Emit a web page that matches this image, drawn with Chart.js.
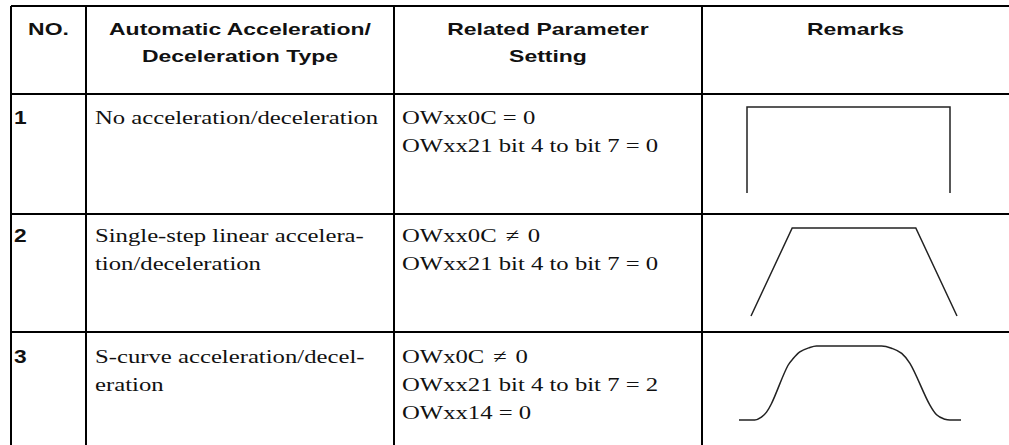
<!DOCTYPE html>
<html>
<head>
<meta charset="utf-8">
<script src="https://cdn.jsdelivr.net/npm/chart.js@4.4.1/dist/chart.umd.min.js"></script>
<style>
  html, body { margin: 0; padding: 0; background: #fff; }
  body { width: 1009px; height: 445px; position: relative; overflow: hidden; }
  .ln { position: absolute; background: #000; }
  .txt { position: absolute; white-space: nowrap; color: #111; }
  .txt div { transform-origin: left center; }
  .hd { font-family: "Liberation Sans", Arial, sans-serif; font-weight: bold; font-size: 17px; line-height: 27px; text-align: center; }
  .hd div { transform-origin: center center; transform: scaleX(1.35); }
  .num { font-family: "Liberation Sans", Arial, sans-serif; font-weight: bold; font-size: 17.5px; line-height: 28px; }
  .num div { transform: scaleX(1.3); }
  .ser { font-family: "Liberation Serif", "Times New Roman", serif; font-size: 19px; line-height: 28px; }
  .ser div { transform: scaleX(1.3); }
  .ne { margin: 0 2px; }
  canvas { position: absolute; }
</style>
</head>
<body>
<div id="tbl"></div>
<script>
// table text
const headers   = [['NO.'], ['Automatic Acceleration/', 'Deceleration Type'], ['Related Parameter', 'Setting'], ['Remarks']];
const rowNos    = ['1', '2', '3'];
const rowTypes  = [['No acceleration/deceleration'], ['Single-step linear accelera-', 'tion/deceleration'], ['S-curve acceleration/decel-', 'eration']];
const rowParams = [['OWxx0C = 0', 'OWxx21 bit 4 to bit 7 = 0'], ['OWxx0C \u2260 0', 'OWxx21 bit 4 to bit 7 = 0'], ['OWx0C \u2260 0', 'OWxx21 bit 4 to bit 7 = 2', 'OWxx14 = 0']];

// speed profiles (time, speed %)
const noAccT = [0, 0, 10, 10];
const noAccV = [0, 100, 100, 0];
const linT   = [0, 2, 8, 10];
const linV   = [0, 100, 100, 0];
const sT     = [0, 7.1, 10.1, 12.4, 14.6, 22.1, 24.4, 27.4, 31.9, 34.9, 64.2, 68.7, 73.3, 77, 86, 89, 92.8, 95, 100];
const sV     = [0, 0, 3.8, 10.6, 22, 74, 83, 92, 98, 100, 100, 97, 90, 76.5, 20, 7, 1, 0, 0];

// layout
const colX = [11, 86, 394, 702, 1009];
const rowY = [6, 94, 214, 332, 445];
const baseOff = [31, 29, 32];

const tbl = document.getElementById('tbl');
function line(x, y, w, h) {
  const d = document.createElement('div'); d.className = 'ln';
  d.style.left = x + 'px'; d.style.top = y + 'px'; d.style.width = w + 'px'; d.style.height = h + 'px';
  tbl.appendChild(d);
}
function text(cls, x, y, w, lines) {
  const d = document.createElement('div'); d.className = 'txt ' + cls;
  d.style.left = x + 'px'; d.style.top = y + 'px'; if (w) d.style.width = w + 'px';
  d.innerHTML = lines.map(l => `<div>${l.replace('\u2260', '<span class="ne">\u2260</span>')}</div>`).join('');
  tbl.appendChild(d);
}

for (let i = 0; i < 4; i++) line(colX[0], rowY[i] - 0.75, 1009 - colX[0], 1.5);
for (let i = 0; i < 4; i++) line(colX[i] - 0.75, rowY[0], 1.5, 445 - rowY[0]);

headers.forEach((h, i) => text('hd', colX[i], 16, colX[i + 1] - colX[i], h));
rowNos.forEach((n, r) => {
  const top = rowY[r + 1] + baseOff[r] - 20.7;
  text('num', 14, top, 0, [n]);
  text('ser', colX[1] + 9, top, 0, rowTypes[r]);
  text('ser', colX[2] + 8, top, 0, rowParams[r]);
});

function profile(box, ts, vs, xMax, smooth) {
  const c = document.createElement('canvas');
  c.width = box.w; c.height = box.h;
  c.style.left = box.x + 'px'; c.style.top = box.y + 'px';
  document.body.appendChild(c);
  new Chart(c, {
    type: 'line',
    data: { datasets: [{
      data: ts.map((t, i) => ({ x: t, y: vs[i] })),
      borderColor: '#222', borderWidth: 1.5, pointRadius: 0, fill: false, clip: false,
      tension: 0, cubicInterpolationMode: smooth ? 'monotone' : 'default',
    }]},
    options: {
      responsive: false, animation: false, devicePixelRatio: 1,
      layout: { padding: 5 },
      plugins: { legend: { display: false }, tooltip: { enabled: false } },
      scales: {
        x: { type: 'linear', min: 0, max: xMax, display: false },
        y: { min: 0, max: 100, display: false },
      },
    },
  });
}

profile({ x: 742, y: 102, w: 213, h: 96 }, noAccT, noAccV, 10, false);
profile({ x: 746, y: 223, w: 216, h: 98 }, linT, linV, 10, false);
profile({ x: 734, y: 341, w: 232, h: 84 }, sT, sV, 100, true);
</script>
</body>
</html>
